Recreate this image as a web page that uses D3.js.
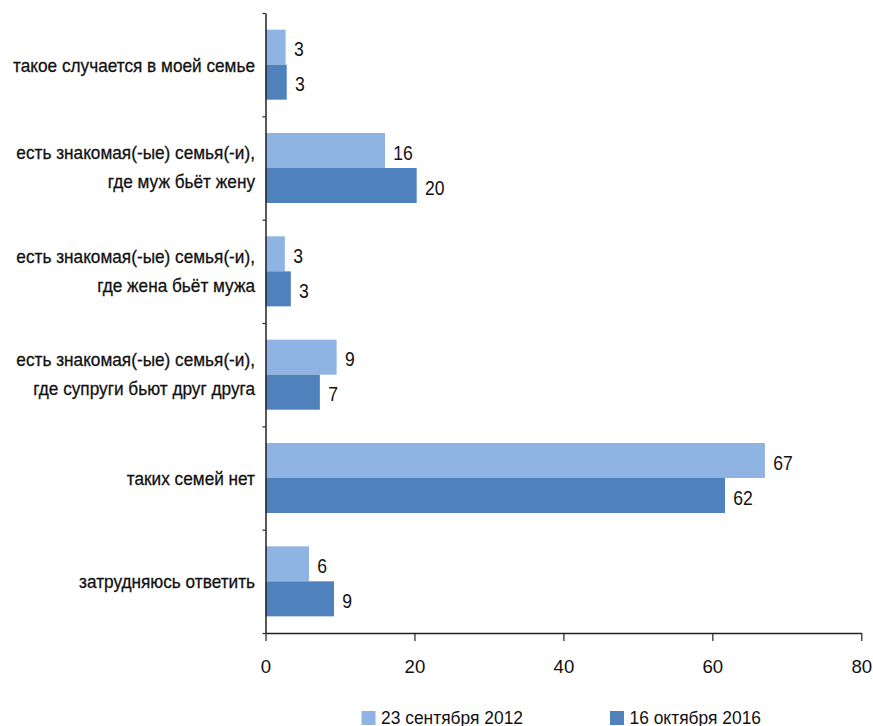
<!DOCTYPE html>
<html><head><meta charset="utf-8">
<script src="https://cdn.jsdelivr.net/npm/d3@7"></script>
<style>
body{margin:0;background:#fff;}
text{font-family:"Liberation Sans",Arial,sans-serif;fill:#111;}
</style></head>
<body><svg id="c" width="873" height="726"></svg>
<script>
const categories = [
  ["такое случается в моей семье"],
  ["есть знакомая(-ые) семья(-и),","где муж бьёт жену"],
  ["есть знакомая(-ые) семья(-и),","где жена бьёт мужа"],
  ["есть знакомая(-ые) семья(-и),","где супруги бьют друг друга"],
  ["таких семей нет"],
  ["затрудняюсь ответить"]
];
const seriesNames = ["23 сентября 2012","16 октября 2016"];
const values2012 = [2.7, 16.05, 2.6, 9.55, 67.06, 5.84];
const values2016 = [2.85, 20.3, 3.4, 7.3, 61.7, 9.2];
const labels2012 = [3, 16, 3, 9, 67, 6];
const labels2016 = [3, 20, 3, 7, 62, 9];
const xTicks = [0, 20, 40, 60, 80];
const colors = ["#8FB3E2", "#4F81BD"];

const svg = d3.select("#c");
const mLeft = 265.5, mRight = 861.3, mTop = 13, mBottom = 633;
const x = d3.scaleLinear().domain([0, 80]).range([mLeft, mRight]);
const y = d3.scaleBand().domain(d3.range(categories.length)).range([mTop, mBottom]).paddingInner(0).paddingOuter(0);
const inner = d3.scaleBand().domain([0, 1]).range([0, y.bandwidth()]).paddingOuter(0.476).paddingInner(0);

// horizontal condensing helper
function condense(sel, k) {
  sel.each(function() {
    const w = this.getComputedTextLength();
    d3.select(this).attr("textLength", w * k).attr("lengthAdjust", "spacingAndGlyphs");
  });
}

const series = [values2012, values2016];
const labs = [labels2012, labels2016];

series.forEach((vals, s) => {
  svg.append("g").selectAll("rect").data(vals).join("rect")
    .attr("x", x(0))
    .attr("y", (d, i) => y(i) + inner(s))
    .attr("width", d => x(d) - x(0))
    .attr("height", inner.bandwidth())
    .attr("fill", colors[s]);
  const t = svg.append("g").selectAll("text").data(vals).join("text")
    .attr("x", d => x(d) + 8.3)
    .attr("y", (d, i) => y(i) + inner(s) + inner.bandwidth() / 2 + 2)
    .attr("dy", "0.36em")
    .attr("font-size", 19.5)
    .text((d, i) => labs[s][i]);
  condense(t, 0.9);
});

// x axis
const xAxis = d3.axisBottom(x).tickValues(xTicks).tickSize(8).tickPadding(19).tickSizeOuter(0);
const gx = svg.append("g").attr("transform", `translate(0,${mBottom})`).call(xAxis);
gx.select(".domain").attr("stroke", "#222").attr("stroke-width", 1.5);
gx.selectAll(".tick line").attr("stroke", "#222").attr("stroke-width", 1.2);
gx.selectAll(".tick text").attr("font-size", 18.6).attr("fill", "#111")
  .attr("font-family", '"Liberation Sans",Arial,sans-serif');

// y axis line & ticks at band boundaries
const yScaleLin = d3.scaleLinear().domain([0, categories.length]).range([mTop, mBottom]);
const gy = svg.append("g").attr("transform", `translate(${mLeft},0)`)
  .call(d3.axisLeft(yScaleLin).tickValues(d3.range(categories.length + 1)).tickSize(3).tickFormat("").tickSizeOuter(0));
gy.select(".domain").attr("stroke", "#222").attr("stroke-width", 1.5);
gy.selectAll(".tick line").attr("stroke", "#222").attr("stroke-width", 1.2);

// category labels
const cl = svg.append("g");
categories.forEach((lines, i) => {
  const cy = y(i) + y.bandwidth() / 2;
  const lh = 29;
  lines.forEach((t, j) => {
    cl.append("text")
      .attr("x", 255)
      .attr("y", cy + (j - (lines.length - 1) / 2) * lh - (lines.length > 1 ? 1 : 0))
      .attr("dy", "0.36em")
      .attr("text-anchor", "end")
      .attr("font-size", 19)
      .attr("stroke", "#111").attr("stroke-width", 0.3)
      .text(t);
  });
});
const catTexts = cl.selectAll("text");
const kCat = 242 / catTexts.node().getComputedTextLength();
condense(catTexts, kCat);

// legend
const legX = [361.5, 610];
const lg = svg.append("g");
seriesNames.forEach((n, s) => {
  lg.append("rect").attr("x", legX[s]).attr("y", 711).attr("width", 14).attr("height", 14).attr("fill", colors[s]);
  lg.append("text").attr("x", legX[s] + 19.5).attr("y", 723.5).attr("font-size", 17.5).text(n);
});
const legTexts = lg.selectAll("text");
const kLeg = 142 / legTexts.node().getComputedTextLength();
condense(legTexts, kLeg);
</script></body></html>
